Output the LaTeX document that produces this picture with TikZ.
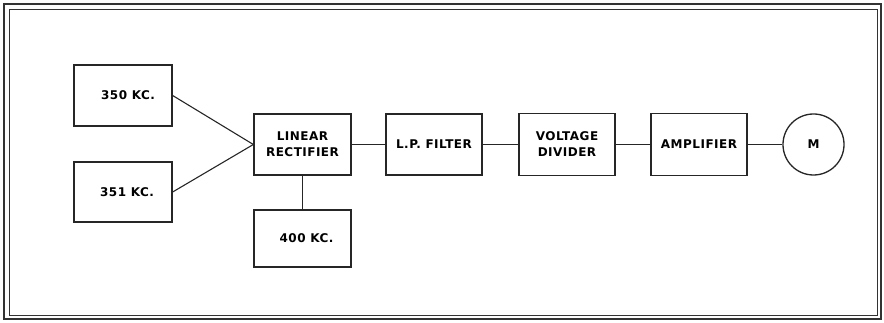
\documentclass[tikz,border=0pt]{standalone}
\usepackage{fontspec}
\setmainfont{DejaVu Sans}[LetterSpace=4]
\begin{document}
\begin{tikzpicture}[x=1pt,y=-1pt,
  blk/.style={draw=black!85, line width=1.3pt, rectangle, align=center,
    font=\fontsize{12}{16}\selectfont\bfseries, inner sep=0pt},
  wire/.style={draw=black!85, line width=1.1pt},
  frameline/.style={draw=black!80}]
\useasboundingbox (0,0) rectangle (884,323);
\draw[frameline, line width=2pt] (4,4) rectangle (881,319);
\draw[frameline, line width=0.8pt] (9,9) rectangle (877,315);
\node[blk, minimum width=98pt, minimum height=61pt] (a) at (123,95.5) {\hspace{10pt}350 KC.};
\node[blk, minimum width=98pt, minimum height=60pt] (b) at (123,192) {\hspace{8pt}351 KC.};
\node[blk, minimum width=97pt, minimum height=61pt] (lr) at (302.5,144.5) {LINEAR\\RECTIFIER};
\node[blk, minimum width=97pt, minimum height=57pt] (c) at (302.5,238.5) {\hspace{8pt}400 KC.};
\node[blk, minimum width=96pt, minimum height=61pt] (lp) at (434,144.5) {L.P. FILTER};
\node[blk, minimum width=96pt, minimum height=62pt] (vd) at (567,144.5) {VOLTAGE\\DIVIDER};
\node[blk, minimum width=96pt, minimum height=62pt] (amp) at (699,144.5) {AMPLIFIER};
\node[blk, circle, minimum size=61pt] (m) at (813.5,144.5) {M};
\draw[wire] (a.east) -- (lr.west);
\draw[wire] (b.east) -- (lr.west);
\draw[wire] (lr.south) -- (c.north);
\draw[wire] (lr.east) -- (lp.west);
\draw[wire] (lp.east) -- (vd.west);
\draw[wire] (vd.east) -- (amp.west);
\draw[wire] (amp.east) -- (m.west);
\end{tikzpicture}
\end{document}
